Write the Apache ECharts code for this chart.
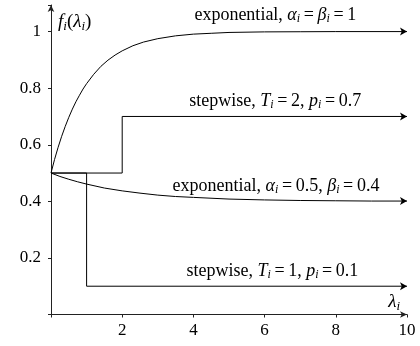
<!DOCTYPE html>
<html>
<head>
<meta charset="utf-8">
<script src="https://cdn.jsdelivr.net/npm/echarts@6/dist/echarts.min.js"></script>
<style>
  html, body { margin: 0; padding: 0; background: #fff; }
  #chart { width: 420px; height: 346px; }
</style>
</head>
<body>
<div id="chart"></div>
<script>
// values
const xTicks = [2, 4, 6, 8, 10];
const yTicks = [0.2, 0.4, 0.6, 0.8, 1];

const expAX = [0, 0.1, 0.2, 0.3, 0.4, 0.5, 0.6, 0.7, 0.8, 0.9, 1, 1.2, 1.4, 1.6, 1.8, 2, 2.3, 2.6, 3, 3.5, 4, 4.5, 5, 6, 7, 8, 10];
const expAY = [0.5, 0.548, 0.591, 0.63, 0.665, 0.697, 0.726, 0.752, 0.775, 0.797, 0.816, 0.849, 0.877, 0.899, 0.917, 0.932, 0.95, 0.963, 0.975, 0.985, 0.991, 0.994, 0.997, 0.999, 0.9995, 1.0, 1.0];

const expBX = [0, 0.25, 0.5, 0.75, 1, 1.5, 2, 2.5, 3, 3.5, 4, 5, 6, 7, 8, 9, 10];
const expBY = [0.5, 0.488, 0.478, 0.469, 0.461, 0.447, 0.437, 0.429, 0.422, 0.417, 0.414, 0.408, 0.405, 0.403, 0.402, 0.401, 0.401];

const stepAX = [0, 2, 2, 10];
const stepAY = [0.5, 0.5, 0.7, 0.7];

const stepBX = [0, 1, 1, 10];
const stepBY = [0.5, 0.5, 0.1, 0.1];

const FONT = 'Liberation Serif';

// last point gets an arrow head
function pts (xs, ys) {
  return xs.map((x, i) => {
    if (i === xs.length - 1) {
      return { value: [x, ys[i]], symbol: 'arrow', symbolSize: [6, 7], symbolRotate: -90 };
    }
    return [x, ys[i]];
  });
}

function lineSeries (xs, ys) {
  return {
    type: 'line',
    data: pts(xs, ys),
    symbol: 'none',
    showSymbol: true,
    itemStyle: { color: '#000' },
    lineStyle: { color: '#000', width: 1 },
    silent: true,
    animation: false
  };
}

const rich = {
  r: { fontFamily: FONT, fontSize: 18, color: '#000', lineHeight: 20, verticalAlign: 'middle' },
  m: { fontFamily: FONT, fontSize: 18, fontStyle: 'italic', color: '#000', lineHeight: 20, verticalAlign: 'middle' },
  s: { fontFamily: FONT, fontSize: 12, fontStyle: 'italic', color: '#000', lineHeight: 9, verticalAlign: 'bottom' },
  R: { fontFamily: FONT, fontSize: 19, color: '#000', lineHeight: 22, verticalAlign: 'middle' },
  M: { fontFamily: FONT, fontSize: 19, fontStyle: 'italic', color: '#000', lineHeight: 22, verticalAlign: 'middle' },
  S: { fontFamily: FONT, fontSize: 13, fontStyle: 'italic', color: '#000', lineHeight: 10, verticalAlign: 'bottom' }
};

const EQ = '{r|\u2009=\u2009}';

const chart = echarts.init(document.getElementById('chart'));
chart.setOption({
  animation: false,
  grid: { left: 51, right: 13, top: 5, bottom: 31.5 },
  xAxis: {
    type: 'value', min: 0, max: 10, interval: 2,
    axisLine: { show: true, symbol: ['none', 'arrow'], symbolSize: [5, 7], lineStyle: { color: '#222', width: 1 } },
    axisTick: { show: true, length: 3, lineStyle: { color: '#222' } },
    axisLabel: {
      fontFamily: FONT, fontSize: 17, color: '#000', margin: 8,
      formatter: v => (xTicks.includes(v) ? String(v) : '')
    },
    splitLine: { show: false }
  },
  yAxis: {
    type: 'value', min: 0, max: 1.094, interval: 0.2,
    axisLine: { show: true, symbol: ['none', 'arrow'], symbolSize: [5, 7], lineStyle: { color: '#222', width: 1 } },
    axisTick: { show: true, length: 3, lineStyle: { color: '#222' } },
    axisLabel: {
      fontFamily: FONT, fontSize: 17, color: '#000', margin: 10,
      formatter: v => {
        const hit = yTicks.find(t => Math.abs(t - v) < 1e-6);
        return hit === undefined ? '' : String(hit);
      }
    },
    splitLine: { show: false }
  },
  series: [
    lineSeries(expAX, expAY),
    lineSeries(stepAX, stepAY),
    lineSeries(expBX, expBY),
    lineSeries(stepBX, stepBY)
  ]
});

// texts placed through the axes
const labels = [
  { at: [6.3, 1.059], text: '{r|exponential, }{m|α}{s|i}' + EQ + '{m|β}{s|i}' + EQ + '{r|1}' },
  { at: [6.3, 0.755], text: '{r|stepwise, }{m|T}{s|i}' + EQ + '{r|2, }{m|p}{s|i}' + EQ + '{r|0.7}' },
  { at: [6.32, 0.455], text: '{r|exponential, }{m|α}{s|i}' + EQ + '{r|0.5, }{m|β}{s|i}' + EQ + '{r|0.4}' },
  { at: [6.22, 0.154], text: '{r|stepwise, }{m|T}{s|i}' + EQ + '{r|1, }{m|p}{s|i}' + EQ + '{r|0.1}' }
];

const graphic = labels.map(l => {
  const p = chart.convertToPixel({ gridIndex: 0 }, l.at);
  return {
    type: 'text', x: p[0], y: p[1], silent: true,
    style: { text: l.text, rich: rich, align: 'center', verticalAlign: 'middle' }
  };
});

const yName = chart.convertToPixel({ gridIndex: 0 }, [0, 1.035]);
graphic.push({
  type: 'text', x: yName[0] + 7, y: yName[1], silent: true,
  style: { text: '{M|f}{S|i}{R|(}{M|λ}{S|i}{R|)}', rich: rich, align: 'left', verticalAlign: 'middle' }
});
const xName = chart.convertToPixel({ gridIndex: 0 }, [10, 0.045]);
graphic.push({
  type: 'text', x: xName[0] - 7, y: xName[1], silent: true,
  style: { text: '{M|λ}{S|i}', rich: rich, align: 'right', verticalAlign: 'middle' }
});

chart.setOption({ graphic: graphic });
</script>
</body>
</html>
